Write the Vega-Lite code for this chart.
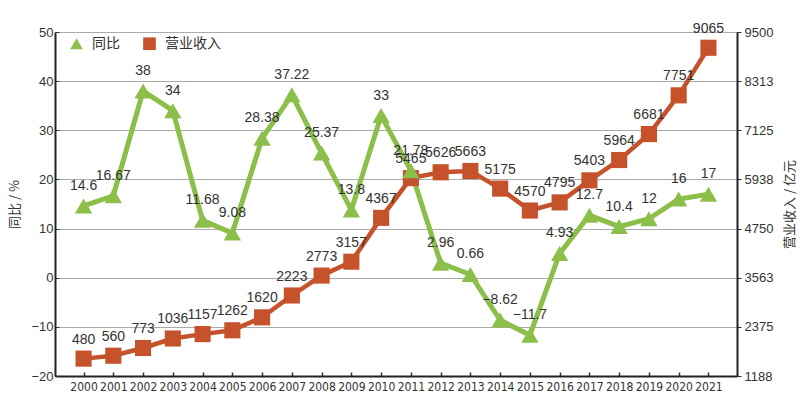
{
  "$schema": "https://vega.github.io/schema/vega-lite/v6.json",
  "width": 682,
  "height": 344,
  "autosize": {"type": "none"},
  "padding": {"left": 55, "top": 32, "right": 63, "bottom": 33},
  "background": "white",
  "config": {
    "view": {"stroke": null},
    "font": "Liberation Sans",
    "axis": {"labelColor": "#333", "titleColor": "#333", "labelFontSize": 13, "titleFont": "Noto Sans CJK SC", "titleFontWeight": "normal", "titleFontSize": 13}
  },
  "data": {
    "values": [
      {"year": "2000", "growth": 14.6, "revenue": 480},
      {"year": "2001", "growth": 16.67, "revenue": 560},
      {"year": "2002", "growth": 38, "revenue": 773},
      {"year": "2003", "growth": 34, "revenue": 1036},
      {"year": "2004", "growth": 11.68, "revenue": 1157},
      {"year": "2005", "growth": 9.08, "revenue": 1262},
      {"year": "2006", "growth": 28.38, "revenue": 1620},
      {"year": "2007", "growth": 37.22, "revenue": 2223},
      {"year": "2008", "growth": 25.37, "revenue": 2773},
      {"year": "2009", "growth": 13.8, "revenue": 3157},
      {"year": "2010", "growth": 33, "revenue": 4367},
      {"year": "2011", "growth": 21.78, "revenue": 5465},
      {"year": "2012", "growth": 2.96, "revenue": 5626},
      {"year": "2013", "growth": 0.66, "revenue": 5663},
      {"year": "2014", "growth": -8.62, "revenue": 5175},
      {"year": "2015", "growth": -11.7, "revenue": 4570},
      {"year": "2016", "growth": 4.93, "revenue": 4795},
      {"year": "2017", "growth": 12.7, "revenue": 5403},
      {"year": "2018", "growth": 10.4, "revenue": 5964},
      {"year": "2019", "growth": 12, "revenue": 6681},
      {"year": "2020", "growth": 16, "revenue": 7751},
      {"year": "2021", "growth": 17, "revenue": 9065}
    ]
  },
  "encoding": {
    "x": {
      "field": "year", "type": "ordinal",
      "scale": {"type": "point", "padding": 0.96},
      "axis": {"title": null, "labelAngle": 0, "labelFont": "DejaVu Sans Condensed", "labelFontSize": 12, "labelPadding": 9, "tickSize": -4, "tickColor": "#333", "tickWidth": 1.5, "domainColor": "#222", "domainWidth": 2, "grid": false}
    }
  },
  "layer": [
    {
      "mark": {"type": "line", "color": "#c5522a", "strokeWidth": 4.5},
      "encoding": {
        "y": {"field": "revenue", "type": "quantitative", "scale": {"domain": [0, 9500], "nice": false, "zero": false},
          "axis": {"orient": "right", "title": "营业收入 / 亿元", "titleAngle": 270, "titlePadding": 24, "grid": false,
            "values": [0, 1357.142857142857, 2714.285714285714, 4071.4285714285716, 5428.571428571428, 6785.714285714285, 8142.857142857143, 9500],
            "labelExpr": "format(round(9500 - (9500 - datum.value) * 0.875 + 0.001), 'd')",
            "labelPadding": 3, "tickSize": 4, "tickColor": "#333", "domainColor": "#222", "domainWidth": 2}}
      }
    },
    {
      "mark": {"type": "line", "color": "#8cbf4a", "strokeWidth": 5},
      "encoding": {
        "y": {"field": "growth", "type": "quantitative", "scale": {"domain": [-20, 50], "nice": false, "zero": false},
          "axis": {"orient": "left", "title": "同比 / %", "titlePadding": 9, "values": [-20, -10, 0, 10, 20, 30, 40, 50], "grid": true, "gridColor": "#aaa", "gridWidth": 1.2, "gridOpacity": 1,
            "tickSize": -4, "tickColor": "#333", "labelPadding": 6, "domainColor": "#222", "domainWidth": 2}}
      }
    },
    {
      "mark": {"type": "point", "filled": true, "opacity": 1, "size": 260},
      "encoding": {
        "y": {"field": "revenue", "type": "quantitative", "scale": {"domain": [0, 9500], "nice": false, "zero": false}, "axis": null},
        "color": {"datum": "营业收入", "type": "nominal", "scale": {"domain": ["同比", "营业收入"], "range": ["#8cbf4a", "#c5522a"]},
          "legend": {"title": null, "orient": "none", "legendX": 14, "legendY": 4, "direction": "horizontal", "labelFont": "Noto Sans CJK SC", "labelFontSize": 14, "labelColor": "#333", "symbolSize": 160, "columnPadding": 22, "labelOffset": 8}},
        "shape": {"datum": "营业收入", "type": "nominal", "scale": {"domain": ["同比", "营业收入"], "range": ["triangle-up", "square"]}, "legend": null}
      }
    },
    {
      "mark": {"type": "point", "filled": true, "opacity": 1, "size": 300},
      "encoding": {
        "y": {"field": "growth", "type": "quantitative", "scale": {"domain": [-20, 50], "nice": false, "zero": false}, "axis": null},
        "color": {"datum": "同比", "type": "nominal"},
        "shape": {"datum": "同比", "type": "nominal"}
      }
    },
    {
      "mark": {"type": "text", "dy": -19, "fontSize": 14, "color": "#333"},
      "encoding": {
        "y": {"field": "revenue", "type": "quantitative", "scale": {"domain": [0, 9500], "nice": false, "zero": false}, "axis": null},
        "text": {"field": "revenue", "type": "quantitative", "format": "d"}
      }
    },
    {
      "mark": {"type": "text", "dy": -20, "fontSize": 14, "color": "#333"},
      "encoding": {
        "y": {"field": "growth", "type": "quantitative", "scale": {"domain": [-20, 50], "nice": false, "zero": false}, "axis": null},
        "text": {"field": "growth", "type": "quantitative", "format": "~g"}
      }
    }
  ],
  "resolve": {"scale": {"y": "independent"}}
}
